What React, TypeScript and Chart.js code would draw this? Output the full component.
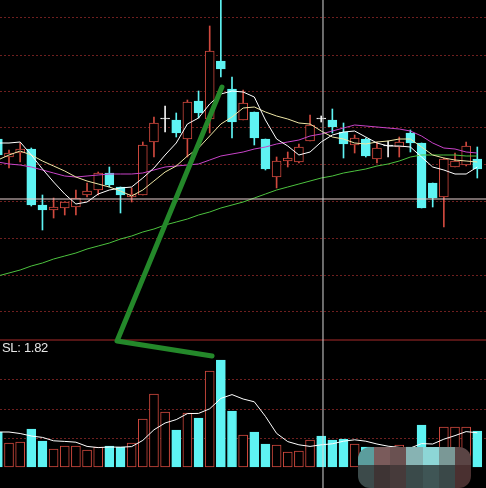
import React, { useEffect, useRef } from 'react';
import { Chart, registerables } from 'chart.js';

Chart.register(...registerables);

// ---------- data ----------
const DAYS = Array.from({ length: 44 }, (_, i) => i);

const OPEN = [10.61,10.43,10.47,10.51,9.95,9.90,9.92,9.93,10.05,10.10,10.27,10.13,10.03,10.05,10.58,10.81,10.80,10.61,10.99,10.81,11.39,11.11,10.80,10.88,10.61,10.23,10.39,10.38,10.59,10.81,10.80,10.68,10.55,10.61,10.41,10.54,10.53,10.67,10.57,10.17,10.03,10.33,10.35,10.41];
const HIGH = [10.63,10.50,10.57,10.52,10.05,10.02,9.98,10.10,10.17,10.28,10.33,10.13,10.12,10.58,10.83,10.94,10.87,11.00,11.09,11.74,12.05,11.23,11.10,10.88,10.61,10.43,10.48,10.56,10.85,10.84,10.91,10.77,10.65,10.62,10.58,10.59,10.63,10.70,10.57,10.17,10.42,10.47,10.58,10.53];
const LOW = [10.43,10.32,10.38,9.94,9.70,9.82,9.85,9.85,10.03,10.05,10.13,9.87,9.98,10.05,10.43,10.68,10.63,10.43,10.82,10.67,11.23,10.62,10.80,10.55,10.30,10.12,10.33,10.37,10.59,10.78,10.67,10.42,10.47,10.43,10.37,10.43,10.43,10.48,9.92,9.93,9.73,10.33,10.34,10.22];
const CLOSE = [10.45,10.47,10.51,9.95,9.90,9.93,9.98,10.02,10.09,10.27,10.15,10.05,10.06,10.55,10.77,10.81,10.67,10.98,10.87,11.49,11.31,10.78,10.97,10.62,10.31,10.39,10.42,10.53,10.75,10.81,10.73,10.56,10.62,10.44,10.52,10.54,10.58,10.57,9.92,10.02,10.41,10.39,10.54,10.31];

const MA5 = [10.57,10.57,10.58,10.45,10.31,10.18,10.06,9.96,9.98,10.06,10.10,10.12,10.13,10.22,10.32,10.45,10.57,10.76,10.82,10.96,11.06,11.09,11.08,11.03,10.80,10.61,10.54,10.45,10.48,10.58,10.65,10.68,10.69,10.63,10.57,10.54,10.54,10.53,10.43,10.33,10.30,10.26,10.26,10.33];
const MA10 = [10.40,10.45,10.49,10.45,10.39,10.34,10.29,10.23,10.19,10.16,10.13,10.09,10.04,10.10,10.19,10.28,10.34,10.44,10.52,10.64,10.76,10.83,10.92,10.93,10.88,10.84,10.81,10.77,10.76,10.69,10.63,10.61,10.57,10.56,10.58,10.59,10.61,10.61,10.53,10.45,10.42,10.40,10.39,10.38];
const MA20 = [10.38,10.36,10.35,10.33,10.30,10.27,10.24,10.23,10.24,10.25,10.26,10.26,10.26,10.27,10.30,10.33,10.34,10.35,10.36,10.40,10.44,10.46,10.48,10.51,10.53,10.56,10.58,10.60,10.64,10.66,10.69,10.72,10.75,10.74,10.73,10.72,10.71,10.69,10.64,10.57,10.52,10.51,10.48,10.47];
const MA60 = [9.24,9.27,9.30,9.34,9.37,9.41,9.44,9.47,9.51,9.54,9.57,9.61,9.64,9.68,9.71,9.75,9.78,9.81,9.85,9.88,9.92,9.95,9.98,10.02,10.06,10.10,10.13,10.16,10.19,10.22,10.24,10.27,10.29,10.31,10.34,10.36,10.39,10.43,10.45,10.45,10.45,10.45,10.44,10.44];

const VOLUME = [3500,2400,2500,3800,2600,1800,2100,2100,1700,2000,2100,2000,2400,4800,7300,5500,3700,5400,4900,9600,10700,5600,3200,3500,2300,2200,1500,1600,2700,3100,2700,2800,2300,2000,1700,1600,2200,2000,4200,1500,4000,4000,4000,3600];
const VOL_MA5 = [3500,3500,3350,3100,2960,2620,2560,2480,2060,1940,2000,1980,2040,2660,3720,4400,4740,5340,5360,5820,6860,7240,6800,6520,5060,3360,2540,2220,2060,2220,2320,2580,2720,2580,2300,2080,1960,1900,2340,2300,2780,3140,3540,3420];
const VOL_SIDE = ['d','u','u','d','d','u','u','u','u','u','d','d','u','u','u','u','d','u','d','u','d','d','u','d','d','u','u','u','u','d','d','d','u','d','u','u','u','d','d','d','u','u','u','d'];

const PRICE_GRID = [11.82, 11.45, 11.09, 10.72, 10.36, 9.99, 9.62, 9.25, 8.88];
const VOL_GRID = [2900, 5800, 8800];
const PANEL_SPLIT = 8.60;      // price at the border between the two panels
const CROSS_PRICE = 10.01;
const CROSS_INDEX = 29.16;
const SL_TEXT = 'SL: 1.82';
// hand-drawn green annotation (index, price)
const NOTE_X = [20.10, 10.69, 19.21];
const NOTE_Y = [11.13, 8.59, 8.44];

// ---------- view ----------
const X_MIN = 0.193, X_MAX = 43.78;
const Y_MIN = 7.12, Y_MAX = 12.0;
const V_MIN = -2100, V_MAX = 46700;

const RED = '#d0493e';
const CYAN = '#5ef3f3';
const DOJI = '#f2f2f2';
const GRID = '#6e1f1f';

const candleColor = (i: number) =>
  CLOSE[i] > OPEN[i] ? RED : CLOSE[i] < OPEN[i] ? CYAN : DOJI;

const line = (data: any[], color: string, yAxisID = 'y', width = 1, order = 1) => ({
  type: 'line' as const,
  data,
  yAxisID,
  borderColor: color,
  borderWidth: width,
  pointRadius: 0,
  tension: 0,
  fill: false,
  order,
});

export default function App() {
  const ref = useRef<HTMLCanvasElement | null>(null);

  useEffect(() => {
    document.body.style.margin = '0';
    document.body.style.background = '#000';
    const ctx = ref.current!.getContext('2d')!;
    const chart = new Chart(ctx, {
      type: 'bar',
      data: {
        datasets: [
          // crosshair + separator
          line([{ x: CROSS_INDEX, y: Y_MIN }, { x: CROSS_INDEX, y: Y_MAX }], '#d6d6d6', 'y', 1, -1),
          line([{ x: X_MIN, y: CROSS_PRICE }, { x: X_MAX, y: CROSS_PRICE }], '#ead2d2', 'y', 1, -1),
          line([{ x: X_MIN, y: PANEL_SPLIT }, { x: X_MAX, y: PANEL_SPLIT }], '#a82a2a', 'y', 1, -1),
          // annotation
          {
            ...line(NOTE_X.map((x, k) => ({ x, y: NOTE_Y[k] })), '#24882a', 'y', 5, -2),
            borderCapStyle: 'round',
            borderJoinStyle: 'round',
          },
          // moving averages
          line(DAYS.map(i => ({ x: i, y: MA5[i] })), '#ffffff'),
          line(DAYS.map(i => ({ x: i, y: MA10[i] })), '#eee6a6'),
          line(DAYS.map(i => ({ x: i, y: MA20[i] })), '#c843c8'),
          line(DAYS.map(i => ({ x: i, y: MA60[i] })), '#4cc23e'),
          line(DAYS.map(i => ({ x: i, y: VOL_MA5[i] })), '#ffffff', 'yVol'),
          // candle bodies
          {
            type: 'bar' as const,
            yAxisID: 'y',
            data: DAYS.map(i => ({ x: i, y: [OPEN[i], CLOSE[i]] })),
            barThickness: 9,
            minBarLength: 1,
            grouped: false,
            backgroundColor: DAYS.map(i => (CLOSE[i] > OPEN[i] ? '#000000' : candleColor(i))),
            borderColor: DAYS.map(candleColor),
            borderWidth: 1,
            borderSkipped: false,
            order: 2,
          },
          // wicks
          {
            type: 'bar' as const,
            yAxisID: 'y',
            data: DAYS.map(i => ({ x: i, y: [LOW[i], HIGH[i]] })),
            barThickness: 1,
            grouped: false,
            backgroundColor: DAYS.map(candleColor),
            borderWidth: 0,
            order: 3,
          },
          // volume
          {
            type: 'bar' as const,
            yAxisID: 'yVol',
            data: DAYS.map(i => ({ x: i, y: VOLUME[i] })),
            barThickness: 9,
            grouped: false,
            backgroundColor: DAYS.map(i => (VOL_SIDE[i] === 'u' ? '#000000' : CYAN)),
            borderColor: DAYS.map(i => (VOL_SIDE[i] === 'u' ? RED : CYAN)),
            borderWidth: 1,
            borderSkipped: false,
            order: 3,
          },
        ] as any,
      },
      options: {
        responsive: false,
        animation: false,
        devicePixelRatio: 1,
        layout: { padding: 0 },
        plugins: { legend: { display: false }, tooltip: { enabled: false }, title: { display: false } },
        events: [],
        scales: {
          x: { type: 'linear', min: X_MIN, max: X_MAX, display: false, offset: false, grid: { offset: false } },
          y: {
            type: 'linear',
            position: 'left',
            min: Y_MIN,
            max: Y_MAX,
            ticks: { display: false },
            grid: { drawTicks: false, color: GRID, lineWidth: 1 },
            border: { display: false, dash: [2, 2] },
            afterBuildTicks: (s: any) => { s.ticks = PRICE_GRID.map(v => ({ value: v })); },
          },
          yVol: {
            type: 'linear',
            position: 'left',
            min: V_MIN,
            max: V_MAX,
            ticks: { display: false },
            grid: { drawTicks: false, color: GRID, lineWidth: 1 },
            border: { display: false, dash: [2, 2] },
            afterBuildTicks: (s: any) => { s.ticks = VOL_GRID.map(v => ({ value: v })); },
          },
        },
      } as any,
    });
    return () => chart.destroy();
  }, []);

  const mosaicTop = ['#5b9d9d', '#7a5b5b', '#6a5151', '#87b3b3', '#8dd6d6', '#7a9896', '#5a4444'];
  const mosaicBot = ['#3c4a4a', '#3e3434', '#463a3a', '#3a4a4a', '#3f5555', '#3a4848', '#4a3030'];

  return (
    <div style={{ position: 'fixed', left: 0, top: 0, width: 486, height: 488, background: '#000', overflow: 'hidden' }}>
      <canvas ref={ref} width={486} height={488} style={{ display: 'block', width: 486, height: 488 }} />
      <div
        style={{
          position: 'absolute', left: 2, top: 340, color: '#e6e6e6',
          font: '13px "Liberation Sans", Arial, sans-serif', letterSpacing: '-0.3px', whiteSpace: 'nowrap',
        }}
      >
        {SL_TEXT}
      </div>
      <div
        style={{
          position: 'absolute', left: 358, top: 447, width: 113, height: 41, borderRadius: 12,
          overflow: 'hidden', display: 'grid', gridTemplateColumns: 'repeat(7, 1fr)', gridTemplateRows: '18px 23px',
        }}
      >
        {mosaicTop.map((c, k) => <div key={'t' + k} style={{ background: c }} />)}
        {mosaicBot.map((c, k) => <div key={'b' + k} style={{ background: c }} />)}
      </div>
    </div>
  );
}
